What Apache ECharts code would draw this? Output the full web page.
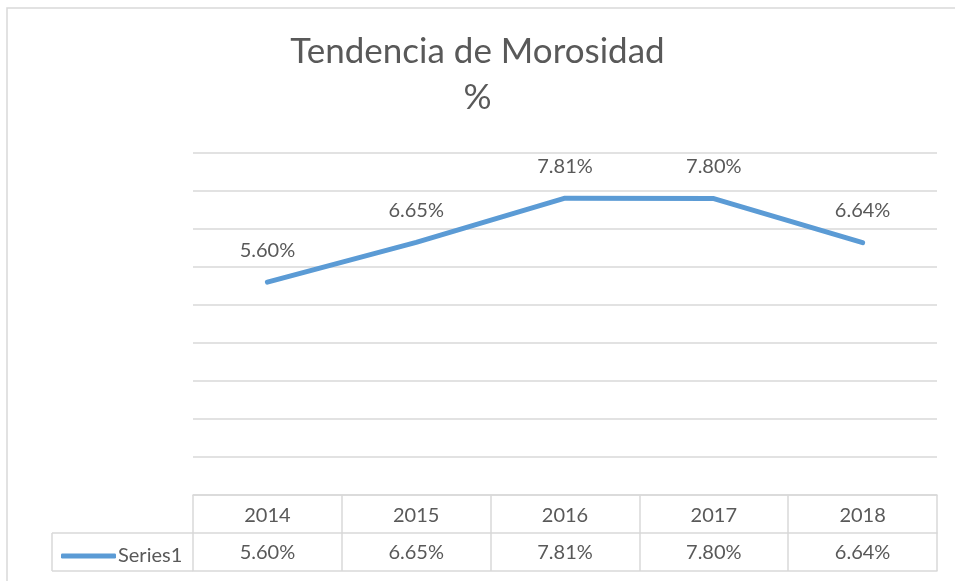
<!DOCTYPE html>
<html>
<head>
<meta charset="utf-8">
<title>Tendencia de Morosidad</title>
<script src="https://cdn.jsdelivr.net/npm/echarts@6/dist/echarts.min.js"></script>
<style>
  html, body { margin: 0; padding: 0; background: #fff; }
  #main { width: 955px; height: 581px; }
</style>
</head>
<body>
<div id="main"></div>
<script>
// datos de la tabla
var years = ['2014', '2015', '2016', '2017', '2018'];
var morosidad = [5.60, 6.65, 7.81, 7.80, 6.64];
var seriesName = 'Series1';

var FONT = 'Lato';
var GRID = '#D9D9D9';
var TXT = '#595959';

function pct(v) {
  return v.toFixed(2) + '%';
}

var chart = echarts.init(document.getElementById('main'));

var option = {
  animation: false,
  textStyle: { fontFamily: FONT },
  title: {
    text: 'Tendencia de Morosidad\n%',
    left: 'center',
    top: 24,
    textStyle: { fontFamily: FONT, fontSize: 35, fontWeight: 'normal', color: TXT, lineHeight: 46 }
  },
  legend: {
    left: 56,
    top: 541,
    icon: 'roundRect',
    itemWidth: 55,
    itemHeight: 5,
    textStyle: { fontFamily: FONT, fontSize: 20, color: TXT, padding: [0, 0, 0, -3] },
    data: [seriesName]
  },
  grid: { left: 193, right: 18, top: 153, bottom: 86 },
  xAxis: [
    {
      type: 'category',
      data: years,
      position: 'bottom',
      axisLine: { show: true, lineStyle: { color: GRID, width: 1.5 } },
      axisTick: { show: true, length: 76, lineStyle: { color: GRID, width: 1.5 } },
      axisLabel: { margin: 11, fontSize: 20, color: TXT, fontFamily: FONT }
    },
    {
      type: 'category',
      data: years,
      position: 'bottom',
      offset: 38,
      axisLine: { show: true, lineStyle: { color: GRID, width: 1.5 } },
      axisTick: { show: false },
      axisLabel: {
        margin: 10, fontSize: 20, color: TXT, fontFamily: FONT,
        formatter: function (val, idx) { return pct(morosidad[idx]); }
      }
    },
    {
      type: 'category',
      data: years,
      position: 'bottom',
      offset: 76,
      axisLine: { show: true, lineStyle: { color: GRID, width: 1.5 } },
      axisTick: { show: false },
      axisLabel: { show: false }
    }
  ],
  yAxis: {
    type: 'value',
    min: 0,
    max: 9,
    interval: 1,
    axisLine: { show: false },
    axisTick: { show: false },
    axisLabel: { show: false },
    splitLine: { lineStyle: { color: GRID, width: 1.5 } }
  },
  graphic: [
    // borde exterior del grafico
    { type: 'rect', shape: { x: 7, y: 8, width: 980, height: 600 }, style: { fill: 'none', stroke: GRID, lineWidth: 1.5 }, silent: true },
    // celda de leyenda de la tabla
    { type: 'line', shape: { x1: 52, y1: 533, x2: 193, y2: 533 }, style: { stroke: GRID, lineWidth: 1.5 } },
    { type: 'line', shape: { x1: 52, y1: 571, x2: 193, y2: 571 }, style: { stroke: GRID, lineWidth: 1.5 } },
    { type: 'line', shape: { x1: 52, y1: 533, x2: 52, y2: 571 }, style: { stroke: GRID, lineWidth: 1.5 } }
  ],
  series: [
    {
      name: seriesName,
      type: 'line',
      data: morosidad,
      symbol: 'circle',
      symbolSize: 0.1,
      showSymbol: true,
      itemStyle: { color: '#5B9BD5' },
      lineStyle: { color: '#5B9BD5', width: 5, cap: 'round', join: 'round' },
      label: {
        show: true,
        position: 'top',
        distance: 22,
        fontSize: 20,
        color: TXT,
        fontFamily: FONT,
        formatter: function (p) { return pct(p.value); }
      }
    }
  ]
};

chart.setOption(option);
</script>
</body>
</html>
